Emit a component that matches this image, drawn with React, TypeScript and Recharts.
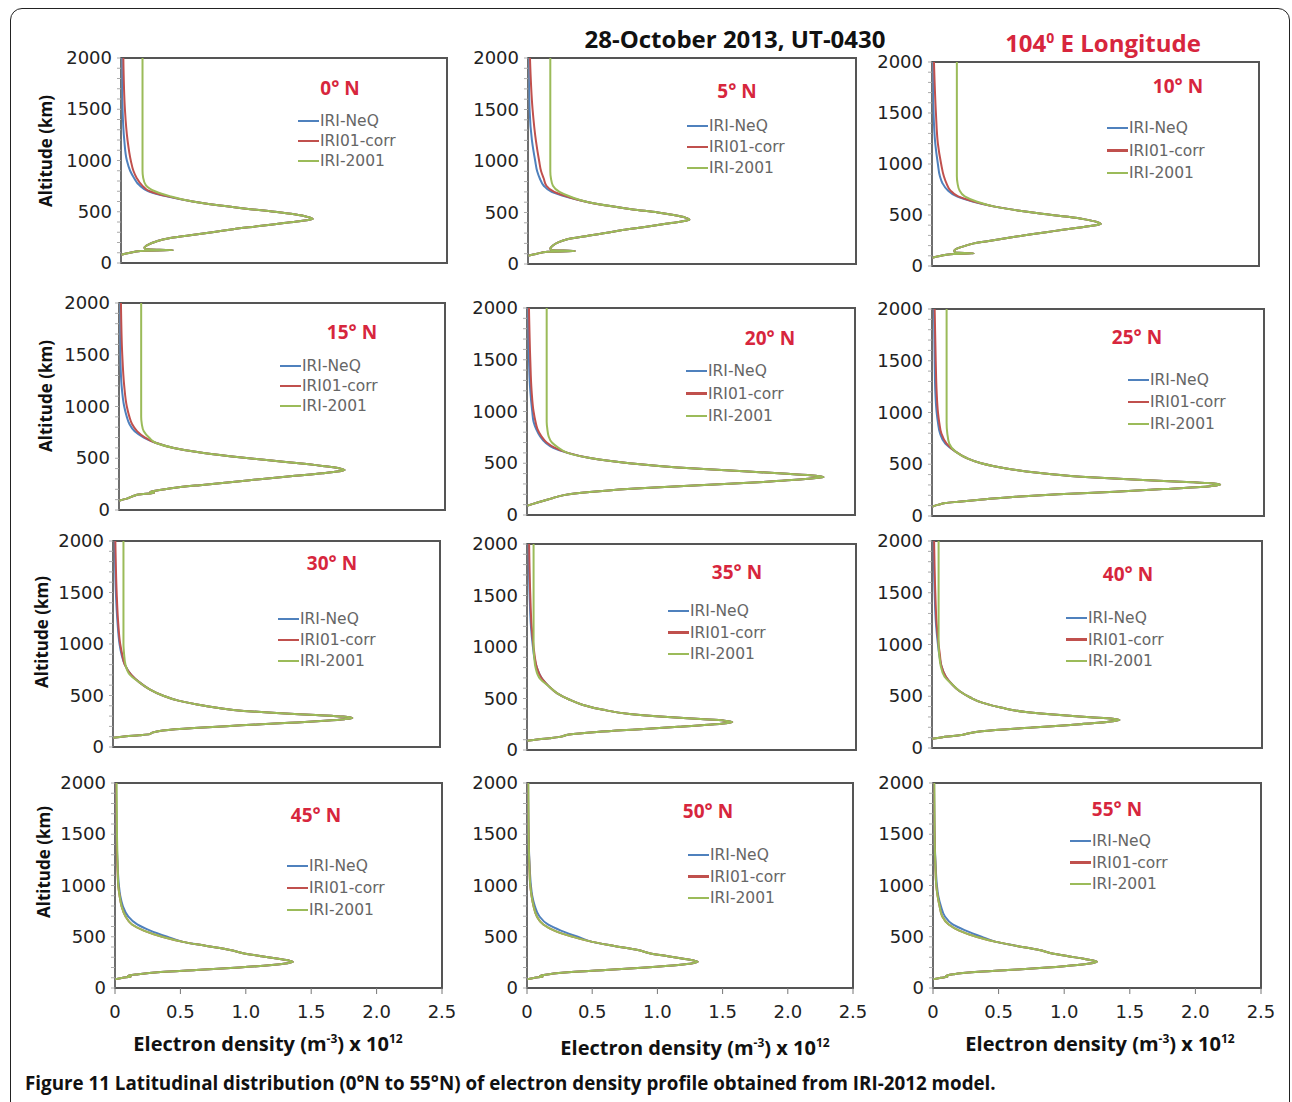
import React from 'react'
import { LineChart, Line, XAxis, YAxis, ReferenceArea } from 'recharts'

// altitude grids (km), one per profile shape
const altEq = [80, 100, 118, 126, 134, 150, 180, 210, 240, 270, 300, 330, 360, 390, 410, 430, 450, 475, 500, 530, 560, 600, 650, 700, 760, 830, 900, 1000, 1200, 1500, 2000]
const alt10 = [80, 100, 116, 124, 132, 150, 170, 192, 222, 252, 282, 312, 342, 372, 392, 412, 432, 457, 482, 512, 542, 582, 632, 682, 742, 812, 882, 1000, 1200, 1500, 2000]
const alt15 = [90, 110, 140, 150, 165, 175, 190, 210, 240, 270, 300, 330, 355, 375, 386, 400, 420, 450, 480, 520, 560, 600, 650, 700, 760, 830, 900, 1000, 1200, 1500, 2000]
const alt20 = [90, 120, 150, 165, 180, 200, 230, 260, 290, 320, 345, 360, 367, 380, 400, 430, 460, 500, 550, 600, 650, 700, 760, 830, 900, 1000, 1200, 1500, 2000]
const alt25 = [90, 110, 125, 138, 160, 187, 210, 235, 260, 280, 295, 305, 318, 332, 350, 380, 420, 460, 510, 560, 620, 700, 800, 900, 1000, 1200, 1500, 2000]
const alt30 = [90, 105, 115, 125, 140, 160, 185, 210, 235, 255, 270, 282, 295, 310, 330, 360, 400, 450, 500, 560, 630, 700, 800, 900, 1000, 1200, 1500, 2000]
const alt35 = [90, 105, 115, 125, 130, 150, 175, 200, 225, 245, 260, 272, 285, 300, 320, 350, 390, 440, 490, 550, 620, 690, 800, 900, 1000, 1200, 1500, 2000]
const alt40 = [90, 105, 115, 125, 130, 148, 173, 198, 223, 243, 258, 270, 283, 298, 318, 348, 388, 438, 488, 548, 618, 688, 800, 900, 1000, 1200, 1500, 2000]
const altMid = [85, 100, 110, 120, 135, 155, 175, 200, 225, 242, 255, 268, 285, 310, 340, 370, 410, 450, 500, 560, 620, 700, 800, 900, 1000, 1200, 1500, 2000]

// electron density x 1e12 m^-3: common lower part, then per-model topside
const base0 = [0, 0.07, 0.15, 0.40, 0.19, 0.18, 0.21, 0.27, 0.36, 0.53, 0.70, 0.86, 1.06, 1.25, 1.38, 1.47, 1.43, 1.33, 1.18, 0.96, 0.76, 0.55]
const neq0 = [0.35, 0.21, 0.14, 0.10, 0.07, 0.045, 0.025, 0.012, 0.006]
const corr0 = [0.36, 0.22, 0.16, 0.12, 0.095, 0.075, 0.05, 0.03, 0.018]
const iri0 = [0.38, 0.26, 0.19, 0.17, 0.165, 0.165, 0.165, 0.165, 0.165]

const base5 = [0, 0.07, 0.15, 0.36, 0.18, 0.17, 0.19, 0.23, 0.30, 0.44, 0.59, 0.72, 0.89, 1.05, 1.16, 1.23, 1.20, 1.11, 0.99, 0.80, 0.64, 0.46]
const neq5 = [0.30, 0.18, 0.12, 0.09, 0.07, 0.055, 0.03, 0.012, 0.005]
const corr5 = [0.31, 0.20, 0.14, 0.12, 0.10, 0.085, 0.06, 0.035, 0.015]
const iri5 = [0.33, 0.24, 0.19, 0.175, 0.17, 0.17, 0.17, 0.17, 0.17]

const base10 = [0, 0.07, 0.14, 0.32, 0.18, 0.17, 0.19, 0.24, 0.32, 0.47, 0.61, 0.76, 0.93, 1.10, 1.21, 1.29, 1.26, 1.17, 1.04, 0.84, 0.67, 0.48]
const neq10 = [0.31, 0.19, 0.12, 0.08, 0.06, 0.045, 0.025, 0.012, 0.006]
const corr10 = [0.32, 0.20, 0.14, 0.11, 0.09, 0.07, 0.045, 0.03, 0.015]
const iri10 = [0.34, 0.25, 0.21, 0.195, 0.19, 0.19, 0.19, 0.19, 0.19]

const base15 = [0, 0.06, 0.12, 0.15, 0.27, 0.24, 0.30, 0.40, 0.62, 0.87, 1.10, 1.35, 1.56, 1.69, 1.73, 1.70, 1.60, 1.40, 1.15, 0.85, 0.60, 0.42, 0.28]
const neq15 = [0.19, 0.12, 0.08, 0.06, 0.04, 0.02, 0.01, 0.005]
const corr15 = [0.20, 0.14, 0.10, 0.08, 0.06, 0.04, 0.025, 0.015]
const iri15 = [0.23, 0.19, 0.175, 0.17, 0.17, 0.17, 0.17, 0.17]

const base20 = [0, 0.08, 0.16, 0.20, 0.24, 0.32, 0.55, 0.90, 1.35, 1.80, 2.10, 2.22, 2.26, 2.20, 1.95, 1.55, 1.15, 0.78, 0.48, 0.31]
const neq20 = [0.20, 0.14, 0.10, 0.07, 0.05, 0.04, 0.025, 0.015, 0.008]
const corr20 = [0.21, 0.15, 0.11, 0.08, 0.065, 0.05, 0.035, 0.025, 0.015]
const iri20 = [0.24, 0.19, 0.165, 0.155, 0.15, 0.15, 0.15, 0.15, 0.15]

const base25 = [0, 0.05, 0.10, 0.20, 0.38, 0.63, 0.95, 1.38, 1.74, 2.02, 2.14, 2.17, 2.08, 1.87, 1.55, 1.12, 0.78, 0.56, 0.37, 0.26, 0.18]
const neq25 = [0.10, 0.06, 0.045, 0.035, 0.025, 0.02, 0.015]
const corr25 = [0.11, 0.07, 0.055, 0.045, 0.035, 0.028, 0.02]
const iri25 = [0.13, 0.115, 0.11, 0.11, 0.11, 0.11, 0.11]

const base30 = [0, 0.10, 0.20, 0.28, 0.30, 0.38, 0.62, 0.98, 1.35, 1.62, 1.77, 1.83, 1.76, 1.55, 1.25, 0.92, 0.70, 0.50, 0.38, 0.28, 0.20]
const neq30 = [0.14, 0.09, 0.065, 0.05, 0.035, 0.022, 0.014]
const corr30 = [0.14, 0.09, 0.07, 0.055, 0.04, 0.028, 0.018]
const iri30 = [0.13, 0.095, 0.085, 0.08, 0.08, 0.08, 0.08]

const base35 = [0, 0.09, 0.17, 0.24, 0.26, 0.32, 0.53, 0.83, 1.15, 1.38, 1.51, 1.56, 1.50, 1.32, 1.07, 0.78, 0.58, 0.42, 0.32, 0.23, 0.165]
const neq35 = [0.115, 0.075, 0.055, 0.045, 0.03, 0.02, 0.012]
const corr35 = [0.115, 0.075, 0.06, 0.05, 0.035, 0.025, 0.016]
const iri35 = [0.10, 0.065, 0.055, 0.05, 0.05, 0.05, 0.05]

const base40 = [0, 0.08, 0.16, 0.22, 0.24, 0.30, 0.48, 0.76, 1.05, 1.26, 1.37, 1.42, 1.37, 1.20, 0.97, 0.71, 0.53, 0.38, 0.29, 0.21, 0.15]
const neq40 = [0.105, 0.07, 0.055, 0.045, 0.03, 0.02, 0.012]
const corr40 = [0.105, 0.07, 0.06, 0.05, 0.035, 0.025, 0.016]
const iri40 = [0.095, 0.065, 0.055, 0.05, 0.05, 0.05, 0.05]

const base45 = [0, 0.06, 0.12, 0.10, 0.18, 0.35, 0.62, 0.95, 1.20, 1.32, 1.36, 1.33, 1.25, 1.12, 0.98, 0.88, 0.70, 0.52]
const neq45 = [0.40, 0.27, 0.17, 0.10, 0.06, 0.04, 0.03, 0.02, 0.012, 0.008]
const corr45 = [0.36, 0.22, 0.13, 0.08, 0.05, 0.035, 0.025, 0.018, 0.012, 0.008]
const iri45 = [0.36, 0.22, 0.13, 0.08, 0.05, 0.035, 0.025, 0.02, 0.015, 0.012]

const base50 = [0, 0.06, 0.12, 0.10, 0.17, 0.34, 0.60, 0.91, 1.16, 1.27, 1.31, 1.28, 1.20, 1.08, 0.94, 0.85, 0.67, 0.50]
const neq50 = [0.39, 0.26, 0.16, 0.095, 0.06, 0.04, 0.03, 0.02, 0.012, 0.008]
const corr50 = [0.35, 0.21, 0.125, 0.075, 0.05, 0.035, 0.025, 0.018, 0.012, 0.008]
const iri50 = [0.35, 0.21, 0.125, 0.075, 0.05, 0.035, 0.025, 0.018, 0.012, 0.01]

const base55 = [0, 0.06, 0.11, 0.10, 0.16, 0.32, 0.57, 0.87, 1.10, 1.21, 1.25, 1.22, 1.15, 1.03, 0.90, 0.81, 0.64, 0.48]
const neq55 = [0.37, 0.25, 0.15, 0.09, 0.06, 0.04, 0.03, 0.02, 0.012, 0.008]
const corr55 = [0.33, 0.20, 0.12, 0.07, 0.05, 0.035, 0.025, 0.018, 0.012, 0.008]
const iri55 = [0.33, 0.20, 0.12, 0.07, 0.05, 0.035, 0.025, 0.018, 0.012, 0.01]

const latitudes = ['0', '5', '10', '15', '20', '25', '30', '35', '40', '45', '50', '55']
const seriesNames = ['IRI-NeQ', 'IRI01-corr', 'IRI-2001']
const xTicks = [0, 0.5, 1, 1.5, 2, 2.5]
const xTickLabels = ['0', '0.5', '1.0', '1.5', '2.0', '2.5']
const yTicks = [0, 100, 200, 300, 400, 500, 600, 700, 800, 900, 1000, 1100, 1200, 1300, 1400, 1500, 1600, 1700, 1800, 1900, 2000]

const profiles = [
  { alt: altEq, base: base0, neq: neq0, corr: corr0, iri: iri0 },
  { alt: altEq, base: base5, neq: neq5, corr: corr5, iri: iri5 },
  { alt: alt10, base: base10, neq: neq10, corr: corr10, iri: iri10 },
  { alt: alt15, base: base15, neq: neq15, corr: corr15, iri: iri15 },
  { alt: alt20, base: base20, neq: neq20, corr: corr20, iri: iri20 },
  { alt: alt25, base: base25, neq: neq25, corr: corr25, iri: iri25 },
  { alt: alt30, base: base30, neq: neq30, corr: corr30, iri: iri30 },
  { alt: alt35, base: base35, neq: neq35, corr: corr35, iri: iri35 },
  { alt: alt40, base: base40, neq: neq40, corr: corr40, iri: iri40 },
  { alt: altMid, base: base45, neq: neq45, corr: corr45, iri: iri45 },
  { alt: altMid, base: base50, neq: neq50, corr: corr50, iri: iri50 },
  { alt: altMid, base: base55, neq: neq55, corr: corr55, iri: iri55 },
]

// plot box (L,T,R,B), latitude label centre, legend origin + row step
const boxes = [
  { L: 121, T: 58, R: 447, B: 263, lx: 340, ly: 88, gx: 298, gy: 121, gs: 20 },
  { L: 528, T: 58, R: 856, B: 264, lx: 737, ly: 91, gx: 687, gy: 126, gs: 21 },
  { L: 932, T: 62, R: 1259, B: 266, lx: 1178, ly: 86, gx: 1107, gy: 128, gs: 22.5 },
  { L: 119, T: 303, R: 445, B: 510, lx: 352, ly: 332, gx: 280, gy: 366, gs: 20 },
  { L: 527, T: 308, R: 855, B: 515, lx: 770, ly: 338, gx: 686, gy: 371, gs: 22.5 },
  { L: 932, T: 309, R: 1264, B: 516, lx: 1137, ly: 337, gx: 1128, gy: 380, gs: 22 },
  { L: 113, T: 541, R: 440, B: 747, lx: 332, ly: 563, gx: 278, gy: 619, gs: 21 },
  { L: 527, T: 544, R: 856, B: 750, lx: 737, ly: 572, gx: 668, gy: 611, gs: 21.5 },
  { L: 932, T: 541, R: 1262, B: 748, lx: 1128, ly: 574, gx: 1066, gy: 618, gs: 21.5 },
  { L: 115, T: 783, R: 442, B: 988, lx: 316, ly: 815, gx: 287, gy: 866, gs: 22 },
  { L: 527, T: 783, R: 853, B: 988, lx: 708, ly: 811, gx: 688, gy: 855, gs: 21.5 },
  { L: 933, T: 783, R: 1261, B: 988, lx: 1117, ly: 809, gx: 1070, gy: 841, gs: 21.5 },
]

const COLORS = ['#4f81bd', '#c0504d', '#9bbb59']
const KEYS = ['neq', 'corr', 'iri']
const AX_W = 70
const AX_H = 40
const PAD_R = 24

function rowsOf(p) {
  const n = p.base.length
  return p.alt.map((a, i) => ({
    alt: a,
    neq: i < n ? p.base[i] : p.neq[i - n],
    corr: i < n ? p.base[i] : p.corr[i - n],
    iri: i < n ? p.base[i] : p.iri[i - n],
  }))
}

function YTick(props) {
  const { x, y, payload } = props
  if (payload.value % 500 !== 0) return <g />
  return (
    <text x={x} y={y} dy={6} textAnchor="end" fontSize={18} fontFamily="DejaVu Sans" fill="#222">
      {payload.value}
    </text>
  )
}

function XTick(props) {
  const { x, y, payload, index } = props
  return (
    <text x={x} y={y} dy={22} textAnchor="middle" fontSize={18} fontFamily="DejaVu Sans" fill="#222">
      {xTickLabels[index] ?? payload.value}
    </text>
  )
}

function Panel({ idx }) {
  const b = boxes[idx]
  const data = rowsOf(profiles[idx])
  const bottomRow = idx >= 9
  const w = b.R - b.L + AX_W + PAD_R
  const h = b.B - b.T + 10 + AX_H
  return (
    <>
      <div style={{ position: 'absolute', left: b.L - AX_W, top: b.T - 10 }}>
        <LineChart width={w} height={h} layout="vertical" data={data} margin={{ top: 10, right: PAD_R, bottom: 0, left: 0 }}>
          <XAxis
            type="number"
            domain={[0, 2.5]}
            ticks={xTicks}
            interval={0}
            height={AX_H}
            axisLine={false}
            tickSize={6}
            tickLine={{ stroke: '#777' }}
            tick={bottomRow ? <XTick /> : false}
            allowDataOverflow
          />
          <YAxis
            type="number"
            dataKey="alt"
            domain={[0, 2000]}
            reversed
            ticks={yTicks}
            interval={0}
            width={AX_W}
            axisLine={{ stroke: '#888' }}
            tickSize={4}
            tickMargin={5}
            tickLine={{ stroke: '#aaa' }}
            tick={<YTick />}
            allowDataOverflow
          />
          <ReferenceArea x1={0} x2={2.5} y1={0} y2={2000} fill="#fff" fillOpacity={0} stroke="#555" strokeWidth={2} />
          {KEYS.map((k, i) => (
            <Line
              key={k}
              type="monotone"
              dataKey={k}
              name={seriesNames[i]}
              stroke={COLORS[i]}
              strokeWidth={2}
              dot={false}
              isAnimationActive={false}
            />
          ))}
        </LineChart>
      </div>
      <div
        style={{
          position: 'absolute', left: b.lx, top: b.ly, transform: 'translate(-50%, -50%)',
          color: '#d7263d', fontWeight: 700, fontSize: 19, fontFamily: 'Open Sans', whiteSpace: 'nowrap',
        }}
      >
        {latitudes[idx]}° N
      </div>
      {seriesNames.map((s, i) => (
        <div
          key={s}
          style={{
            position: 'absolute', left: b.gx, top: b.gy + i * b.gs - 9, height: 18, lineHeight: '18px',
            display: 'flex', alignItems: 'center', fontFamily: 'DejaVu Sans', fontSize: 15.5, color: '#666', whiteSpace: 'nowrap',
          }}
        >
          <span style={{ display: 'inline-block', width: 21, height: 2.5, background: COLORS[i], marginRight: 1 }} />
          {s}
        </div>
      ))}
    </>
  )
}

const yTitles = [
  { x: 45, y: 151 },
  { x: 45, y: 396 },
  { x: 41, y: 632 },
  { x: 43, y: 862 },
]
const xTitles = [
  { x: 268, y: 1043 },
  { x: 695, y: 1047 },
  { x: 1100, y: 1043 },
]

export default function App() {
  return (
    <div style={{ position: 'absolute', left: 0, top: 0, width: 1292, height: 1102, background: '#fff', overflow: 'hidden', fontFamily: 'Open Sans' }}>
      <div style={{ position: 'absolute', left: 10, top: 8, width: 1278, height: 1120, border: '1.5px solid #222', borderRadius: 12 }} />
      <div style={{ position: 'absolute', left: 735, top: 38, transform: 'translate(-50%, -50%)', fontWeight: 700, fontSize: 24, color: '#111', whiteSpace: 'nowrap' }}>
        28-October 2013, UT-0430
      </div>
      <div style={{ position: 'absolute', left: 1103, top: 42, transform: 'translate(-50%, -50%)', fontWeight: 700, fontSize: 24, color: '#d7263d', whiteSpace: 'nowrap' }}>
        104<sup style={{ fontSize: 14 }}>0</sup> E Longitude
      </div>
      {boxes.map((_, i) => (
        <Panel key={i} idx={i} />
      ))}
      {yTitles.map((t, i) => (
        <div
          key={i}
          style={{
            position: 'absolute', left: t.x, top: t.y, transform: 'translate(-50%, -50%) rotate(-90deg)',
            fontWeight: 700, fontSize: 17, color: '#111', whiteSpace: 'nowrap',
          }}
        >
          Altitude (km)
        </div>
      ))}
      {xTitles.map((t, i) => (
        <div
          key={i}
          style={{
            position: 'absolute', left: t.x, top: t.y, transform: 'translate(-50%, -50%)',
            fontWeight: 700, fontSize: 20, color: '#111', whiteSpace: 'nowrap',
          }}
        >
          Electron density (m<sup style={{ fontSize: 12 }}>-3</sup>) x 10<sup style={{ fontSize: 12 }}>12</sup>
        </div>
      ))}
      <div style={{ position: 'absolute', left: 25, top: 1083, transform: 'translateY(-50%)', fontWeight: 700, fontSize: 18.8, color: '#111', whiteSpace: 'nowrap' }}>
        Figure 11 Latitudinal distribution (0°N to 55°N) of electron density profile obtained from IRI-2012 model.
      </div>
    </div>
  )
}
